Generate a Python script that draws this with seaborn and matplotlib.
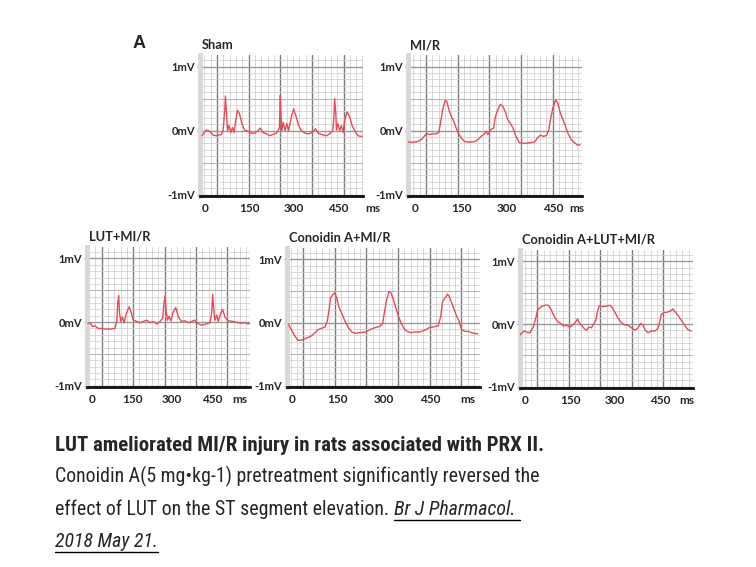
import numpy as np
import matplotlib
matplotlib.use("Agg")
import matplotlib.pyplot as plt
from matplotlib import font_manager
from matplotlib.lines import Line2D
import seaborn as sns

W, H = 756, 567

# --- ECG traces (time in ms, voltage in mV) ---
sham_t = [-10, 4, 16, 27, 38, 55, 61, 67, 69, 73, 76, 81, 87, 93, 98, 104, 110, 117, 125, 134,
          146, 157, 168, 180, 187, 196, 208, 219, 230, 242, 247, 252, 255, 257, 260, 265, 271,
          277, 283, 292, 300, 309, 317, 326, 338, 354, 366, 374, 383, 394, 411, 422, 433, 437,
          439, 443, 445, 450, 456, 462, 468, 473, 481, 490, 498, 507, 518, 529, 541]
sham_v = [-0.08, 0.01, -0.01, -0.07, -0.08, -0.06, 0.0, 0.32, 0.54, 0.26, 0.0, 0.08, -0.03,
          0.05, -0.03, 0.16, 0.32, 0.26, 0.11, 0.01, -0.01, -0.04, -0.04, 0.0, 0.04, -0.03,
          -0.05, -0.08, -0.06, -0.04, 0.0, 0.05, 0.55, 0.26, 0.0, 0.13, 0.0, 0.11, 0.0, 0.21,
          0.34, 0.21, 0.08, 0.0, -0.04, -0.05, -0.01, 0.03, -0.04, -0.06, -0.08, -0.05, 0.0,
          0.26, 0.50, 0.26, 0.01, 0.11, 0.0, 0.08, -0.03, 0.16, 0.29, 0.21, 0.08, 0.0, -0.08,
          -0.09, -0.08]

mir_t = [-24, -8, 9, 23, 36, 47, 58, 69, 77, 83, 90, 98, 103, 112, 120, 126, 134, 141, 150,
         161, 177, 194, 205, 215, 226, 232, 237, 248, 256, 262, 270, 278, 286, 295, 302, 310,
         319, 329, 340, 357, 373, 389, 400, 408, 419, 429, 436, 441, 449, 458, 465, 473, 482,
         490, 498, 509, 520, 531, 538]
mir_v = [-0.18, -0.18, -0.17, -0.13, -0.05, -0.06, -0.05, -0.05, -0.03, 0.12, 0.33, 0.47,
         0.46, 0.30, 0.20, 0.15, 0.04, -0.04, -0.11, -0.17, -0.18, -0.17, -0.14, -0.09, -0.05,
         -0.01, -0.06, 0.02, 0.04, 0.22, 0.33, 0.41, 0.38, 0.28, 0.17, 0.12, 0.04, -0.09, -0.19,
         -0.20, -0.19, -0.18, -0.11, -0.07, -0.09, -0.07, 0.02, 0.17, 0.35, 0.48, 0.43, 0.28,
         0.17, 0.07, -0.04, -0.14, -0.19, -0.23, -0.22]

lut_t = [-16, -8, 1, 11, 24, 36, 49, 68, 86, 93, 96, 100, 103, 108, 114, 120, 129, 139, 146,
         155, 168, 180, 193, 205, 218, 230, 243, 255, 265, 270, 274, 278, 283, 289, 296, 305,
         314, 324, 336, 349, 361, 374, 384, 396, 411, 426, 443, 449, 453, 456, 461, 468, 474,
         483, 490, 499, 511, 530, 549, 561, 574, 586, 595]
lut_v = [-0.02, -0.01, -0.07, -0.06, -0.10, -0.10, -0.11, -0.11, -0.10, 0.01, 0.29, 0.42,
         0.14, 0.01, 0.08, -0.01, 0.14, 0.24, 0.16, 0.03, 0.01, -0.01, 0.01, 0.03, -0.01, 0.01,
         -0.03, 0.01, 0.06, 0.29, 0.41, 0.19, 0.03, 0.09, 0.02, 0.16, 0.23, 0.08, 0.01, 0.02,
         -0.01, 0.01, 0.03, -0.02, -0.05, -0.03, -0.01, 0.14, 0.44, 0.24, 0.03, 0.11, 0.01,
         0.14, 0.20, 0.08, 0.02, 0.01, -0.01, -0.02, -0.01, -0.03, -0.01]

con_t = [-12, -3, 8, 19, 29, 40, 51, 64, 75, 86, 97, 108, 115, 121, 126, 133, 140, 146, 151,
         157, 164, 173, 184, 195, 206, 222, 238, 255, 271, 287, 296, 301, 309, 316, 323, 331,
         339, 347, 358, 369, 385, 401, 417, 434, 448, 461, 477, 485, 491, 499, 507, 513, 521,
         529, 537, 545, 553, 564, 575, 586, 606]
con_v = [-0.02, -0.10, -0.20, -0.28, -0.28, -0.26, -0.24, -0.21, -0.16, -0.11, -0.09, -0.07,
         0.02, 0.20, 0.39, 0.44, 0.47, 0.39, 0.28, 0.20, 0.13, 0.02, -0.08, -0.15, -0.17,
         -0.16, -0.15, -0.11, -0.08, -0.06, -0.01, 0.15, 0.36, 0.49, 0.47, 0.36, 0.23, 0.10,
         -0.03, -0.12, -0.16, -0.15, -0.15, -0.12, -0.08, -0.07, -0.05, 0.10, 0.33, 0.39, 0.45,
         0.41, 0.31, 0.20, 0.10, 0.02, -0.11, -0.14, -0.14, -0.16, -0.18]

conlut_t = [-18, -10, -3, 5, 16, 27, 35, 41, 47, 55, 66, 77, 86, 93, 101, 110, 119, 127, 138,
            149, 160, 168, 175, 182, 190, 197, 205, 212, 221, 230, 236, 241, 247, 255, 266, 275,
            282, 290, 299, 308, 319, 330, 343, 355, 366, 375, 386, 393, 401, 410, 421, 434, 443,
            449, 454, 462, 475, 486, 493, 501, 510, 521, 532, 543, 554]
conlut_v = [-0.18, -0.14, -0.11, -0.13, -0.14, -0.05, 0.08, 0.21, 0.25, 0.28, 0.30, 0.30,
            0.24, 0.16, 0.09, 0.03, 0.01, -0.03, -0.02, -0.05, -0.01, 0.03, 0.08, 0.01, -0.03,
            -0.07, -0.10, -0.05, -0.06, 0.01, 0.06, 0.19, 0.29, 0.28, 0.28, 0.29, 0.30, 0.27,
            0.19, 0.11, 0.03, -0.01, -0.02, -0.06, -0.10, -0.07, 0.01, -0.02, -0.10, -0.14,
            -0.11, -0.11, -0.07, 0.03, 0.15, 0.18, 0.19, 0.21, 0.24, 0.19, 0.14, 0.06, -0.02,
            -0.09, -0.11]

titles = ["Sham", "MI/R", "LUT+MI/R", "Conoidin A+MI/R", "Conoidin A+LUT+MI/R"]
traces = [(sham_t, sham_v), (mir_t, mir_v), (lut_t, lut_v), (con_t, con_v), (conlut_t, conlut_v)]
x_ticks = [0, 150, 300, 450]
y_ticks = [-1, 0, 1]
y_labels = ["-1mV", "0mV", "1mV"]

caption_bold = "LUT ameliorated MI/R injury in rats associated with PRX II."
caption_lines = ["Conoidin A(5 mg\u2022kg-1) pretreatment significantly reversed the",
                 "effect of LUT on the ST segment elevation. "]
citation = ["Br J Pharmacol. ", "2018 May 21."]

# layout: axes box in pixels (left, top, right, bottom), x range (ms), first major line, major step, "ms" x
panels = [
    dict(box=(200, 55, 363, 196), xlim=(-17, 535), major0=41, step=107, ms=569),
    dict(box=(408, 55, 582, 196), xlim=(-23, 544), major0=36, step=103, ms=528),
    dict(box=(87, 247, 250, 387), xlim=(-19, 593), major0=36, step=118, ms=555),
    dict(box=(287, 248, 480, 387), xlim=(-16, 613), major0=37, step=103, ms=574),
    dict(box=(520, 250, 693, 388), xlim=(-17, 560), major0=41, step=105, ms=540),
]

sns.set_style("white")
plt.rcParams["font.family"] = ["Lato", "DejaVu Sans"]

fig = plt.figure(figsize=(W / 100, H / 100), dpi=100)
fig.patch.set_facecolor("white")

LINE_COLOR = "#e84a58"

for (t, v), title, p in zip(traces, titles, panels):
    l, tp, r, b = p["box"]
    ax = fig.add_axes([l / W, 1 - b / H, (r - l) / W, (b - tp) / H])
    ax.set_xlim(*p["xlim"])
    ax.set_ylim(-1.02, 1.18)

    # ECG paper grid
    step = p["step"]
    minor = step / 5
    xs = np.arange(p["major0"] - step * 2, p["xlim"][1] + 1, minor)
    for xv in xs:
        k = (xv - p["major0"]) / step
        major = abs(k - round(k)) < 1e-6
        ax.axvline(xv, color="#7a7a7a" if major else "#cfcfcf",
                   lw=1.0 if major else 0.55, zorder=1)
    for yv in np.arange(-1.0, 1.19, 0.1):
        yr = round(yv, 1)
        if abs(yr - round(yr)) < 1e-6:
            c, w = "#999999", 1.0
        elif abs(yr * 2 - round(yr * 2)) < 1e-6:
            c, w = "#b5b5b5", 0.75
        else:
            c, w = "#cfcfcf", 0.55
        ax.axhline(yr, color=c, lw=w, zorder=1)

    sns.lineplot(x=t, y=v, ax=ax, color=LINE_COLOR, lw=1.0, sort=False, zorder=3)

    for side in ["top", "right"]:
        ax.spines[side].set_visible(False)
    ax.spines["left"].set_color("#d8d8d8")
    ax.spines["left"].set_linewidth(3.5)
    ax.spines["bottom"].set_color("#111111")
    ax.spines["bottom"].set_linewidth(2.0)
    ax.spines["bottom"].set_zorder(5)

    ax.set_yticks(y_ticks)
    ax.set_yticklabels(y_labels, fontsize=8, fontweight="bold")
    ax.tick_params(axis="y", length=2.5, width=0.8, color="#777777", pad=1, left=True)
    ax.set_xticks(x_ticks)
    ax.set_xticklabels([str(x) for x in x_ticks], fontsize=8.5, fontweight="bold")
    ax.tick_params(axis="x", length=0, pad=5)
    ax.annotate("ms", xy=(p["ms"], 0), xycoords=ax.get_xaxis_transform(),
                xytext=(0, -5), textcoords="offset points", ha="center", va="top",
                fontsize=8.5, fontweight="bold", annotation_clip=False)
    ax.set_xlabel("")
    ax.set_ylabel("")

    fig.text((l + 2) / W, 1 - (tp - 10) / H, title, fontsize=9.3, fontweight="bold",
             ha="left", va="center")

fig.text(133 / W, 1 - 44 / H, "A", fontsize=13, fontweight="bold", ha="left", va="center",
         family=["Liberation Sans", "DejaVu Sans"])

# --- caption: narrow Arial-like font if one is installed, then fit the line widths ---
installed = {f.name for f in font_manager.fontManager.ttflist}
cap_font = ["Liberation Sans", "DejaVu Sans"]
for cand in ["Liberation Sans Narrow", "Arial Narrow", "Roboto Condensed", "Open Sans Condensed"]:
    if cand in installed:
        cap_font = [cand, "DejaVu Sans"]
        break

renderer = fig.canvas.get_renderer()
cx = 55 / W
t1 = fig.text(cx, 1 - 451 / H, caption_bold, fontsize=14.4, fontweight="bold",
              family=cap_font, va="baseline")
t1.set_fontsize(min(16, 14.4 * 490 / t1.get_window_extent(renderer).width))

t2 = fig.text(cx, 1 - 482 / H, caption_lines[0], fontsize=14.4, family=cap_font, va="baseline")
fs = min(16, 14.4 * 485 / t2.get_window_extent(renderer).width)
t2.set_fontsize(fs)
t3 = fig.text(cx, 1 - 515 / H, caption_lines[1], fontsize=fs, family=cap_font, va="baseline")
x3 = t3.get_window_extent(renderer).x1 / W
t3b = fig.text(x3, 1 - 515 / H, citation[0], fontsize=fs, family=cap_font,
               style="italic", va="baseline")
t4 = fig.text(cx, 1 - 547 / H, citation[1], fontsize=fs, family=cap_font,
              style="italic", va="baseline")
for txt, ybase in [(t3b, 515), (t4, 547)]:
    bb = txt.get_window_extent(renderer)
    yy = 1 - (ybase + 5) / H
    fig.add_artist(Line2D([bb.x0 / W, bb.x1 / W], [yy, yy], transform=fig.transFigure,
                          color="black", lw=1.0))

fig.savefig("out.png", dpi=100)
